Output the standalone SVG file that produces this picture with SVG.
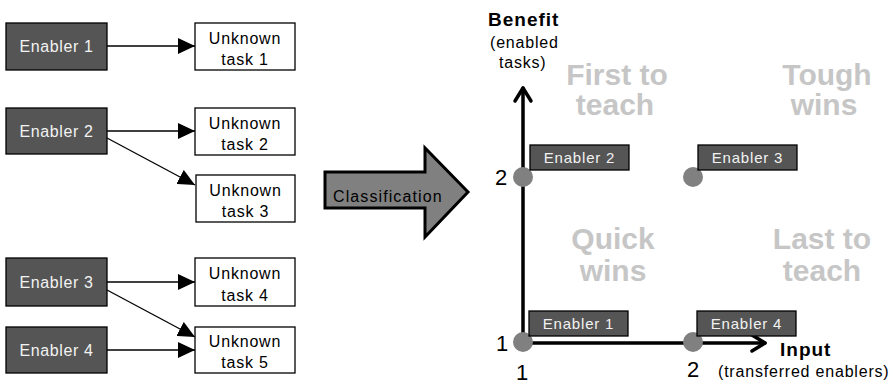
<svg xmlns="http://www.w3.org/2000/svg" width="894" height="385" viewBox="0 0 894 385">
<style>
text{font-family:"Liberation Sans",Arial,sans-serif}
.en rect{fill:#555555;stroke:#000;stroke-width:1.3}
.en text{fill:#f2f2f2;font-size:16px;letter-spacing:0.6px;text-anchor:middle}
.tk rect{fill:#fff;stroke:#000;stroke-width:1.3}
.tk text{fill:#000;font-size:16px;letter-spacing:0.8px;text-anchor:middle}
.lb rect{fill:#555555;stroke:#000;stroke-width:1.3}
.lb text{fill:#f2f2f2;font-size:15px;letter-spacing:0.8px;text-anchor:middle}
.ln{stroke:#000;stroke-width:1.3;fill:none;marker-end:url(#ah)}
.ax{stroke:#000;stroke-width:3.5;fill:none;stroke-linecap:round;stroke-linejoin:round}
.pt{fill:#808080}
.q{fill:#c6c6c6;font-size:30px;font-weight:bold;text-anchor:middle}
.num{fill:#000;font-size:22px}
.al{fill:#000;font-size:16px;letter-spacing:0.8px}
.ab{fill:#000;font-size:19px;font-weight:bold;letter-spacing:1px}
</style>
<defs>
<marker id="ah" markerUnits="userSpaceOnUse" markerWidth="18" markerHeight="16" refX="17" refY="8" orient="auto">
<path d="M0,0 L17,8 L0,16 z" fill="#000"/>
</marker>
</defs>
<g id="connectors">
<line class="ln" x1="107" y1="46" x2="195" y2="46"/>
<line class="ln" x1="107" y1="131" x2="195" y2="131"/>
<line class="ln" x1="107" y1="138" x2="195" y2="185"/>
<line class="ln" x1="107" y1="282" x2="195" y2="282"/>
<line class="ln" x1="107" y1="290" x2="195" y2="337"/>
<line class="ln" x1="107" y1="350" x2="195" y2="350"/>
</g>
<g id="enabler1" class="en"><rect x="6" y="23" width="101" height="47"/><text x="56.5" y="52">Enabler 1</text></g>
<g id="enabler2" class="en"><rect x="6" y="108" width="101" height="46"/><text x="56.5" y="137">Enabler 2</text></g>
<g id="enabler3" class="en"><rect x="6" y="258" width="101" height="48"/><text x="56.5" y="288">Enabler 3</text></g>
<g id="enabler4" class="en"><rect x="6" y="327" width="101" height="46"/><text x="56.5" y="356">Enabler 4</text></g>
<g id="task1" class="tk"><rect x="195" y="23" width="100" height="47"/><text x="245" y="44">Unknown</text><text x="245" y="65">task 1</text></g>
<g id="task2" class="tk"><rect x="195" y="108" width="100" height="47"/><text x="245" y="129">Unknown</text><text x="245" y="150">task 2</text></g>
<g id="task3" class="tk"><rect x="196" y="175" width="99" height="47"/><text x="245.5" y="196">Unknown</text><text x="245.5" y="217">task 3</text></g>
<g id="task4" class="tk"><rect x="195" y="258" width="100" height="48"/><text x="245" y="279">Unknown</text><text x="245" y="301">task 4</text></g>
<g id="task5" class="tk"><rect x="195" y="327" width="100" height="46"/><text x="245" y="347">Unknown</text><text x="245" y="368">task 5</text></g>
<g id="classification">
<polygon points="325,172 425,172 425,148 468,192 425,237 425,208 325,208" fill="#808080" stroke="#000" stroke-width="3" stroke-linejoin="miter"/>
<text x="333" y="202" font-size="16" letter-spacing="1.1" fill="#000">Classification</text>
</g>
<g id="chart">
<g id="quadrants">
<text class="q" x="617" y="85">First to</text>
<text class="q" x="615" y="115">teach</text>
<text class="q" x="827" y="85">Tough</text>
<text class="q" x="824" y="115">wins</text>
<text class="q" x="613" y="249">Quick</text>
<text class="q" x="613" y="281">wins</text>
<text class="q" x="822" y="249">Last to</text>
<text class="q" x="822" y="281">teach</text>
</g>
<g id="axes">
<polyline class="ax" points="523,343 523,88"/>
<polyline class="ax" points="515,101 523,88 531,101"/>
<polyline class="ax" points="523,343 765,343"/>
<polyline class="ax" points="752,335 765,343 752,351"/>
</g>
<text class="ab" x="488" y="26">Benefit</text>
<text class="al" x="490" y="48">(enabled</text>
<text class="al" x="499" y="68">tasks)</text>
<text class="ab" x="780" y="356">Input</text>
<text class="al" x="718" y="377">(transferred enablers)</text>
<text class="num" x="495" y="185">2</text>
<text class="num" x="496" y="351">1</text>
<text class="num" x="516" y="380">1</text>
<text class="num" x="687" y="377">2</text>
<circle class="pt" cx="523" cy="177" r="10"/>
<circle class="pt" cx="693" cy="177" r="10"/>
<circle class="pt" cx="523" cy="342" r="10"/>
<circle class="pt" cx="693" cy="342" r="10"/>
<g id="label2" class="lb"><rect x="530" y="145" width="99" height="25"/><text x="579.5" y="163">Enabler 2</text></g>
<g id="label3" class="lb"><rect x="698" y="145" width="99" height="25"/><text x="747.5" y="163">Enabler 3</text></g>
<g id="label1" class="lb"><rect x="529" y="311" width="99" height="25"/><text x="578.5" y="329">Enabler 1</text></g>
<g id="label4" class="lb"><rect x="697" y="311" width="99" height="25"/><text x="746.5" y="329">Enabler 4</text></g>
</g>
</svg>
